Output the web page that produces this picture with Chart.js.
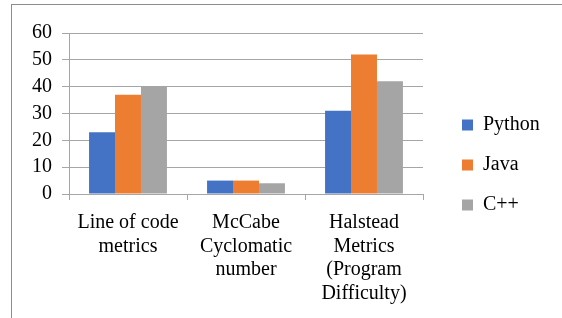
<!DOCTYPE html>
<html>
<head>
<meta charset="utf-8">
<script src="https://cdn.jsdelivr.net/npm/chart.js@4/dist/chart.umd.min.js"></script>
<style>
  html, body { margin: 0; padding: 0; background: #ffffff; }
  #wrap { position: relative; width: 562px; height: 318px; overflow: hidden; }
  #frame { position: absolute; left: 10.5px; top: 3.5px; width: 600px; height: 400px;
           border-left: 1.5px solid #8c8c8c; border-top: 1.5px solid #8c8c8c; }
  #c { position: absolute; left: 0; top: 0; }
</style>
</head>
<body>
<div id="wrap">
  <div id="frame"></div>
  <canvas id="c" width="562" height="318"></canvas>
</div>
<script>
const categories = [
  ["Line of code", "metrics"],
  ["McCabe", "Cyclomatic", "number"],
  ["Halstead", "Metrics", "(Program", "Difficulty)"]
];
const seriesNames = ["Python", "Java", "C++"];
const pythonValues = [23, 5, 31];
const javaValues = [37, 5, 52];
const cppValues = [40, 4, 42];
const seriesColors = ["#4472C4", "#ED7D31", "#A5A5A5"];
const yTicks = [0, 10, 20, 30, 40, 50, 60];

const FONT = "'Liberation Serif', 'Times New Roman', serif";
const gridColor = "#a6a6a6";

const legendTweak = {
  id: 'legendTweak',
  beforeUpdate(chart) {
    const lg = chart.legend;
    if (lg && !lg._wrapped) {
      const orig = lg.fit;
      lg.fit = function () { orig.call(this); this.width = 120; };
      lg._wrapped = true;
    }
  },
  afterLayout(chart) {
    const lg = chart.legend;
    if (lg) {
      const dx = 442 - lg.left;
      lg.left += dx; lg.right += dx;
      lg.top = 35; lg.bottom = 295; lg.height = 260;
    }
  }
};

new Chart(document.getElementById('c'), {
  type: 'bar',
  data: {
    labels: categories,
    datasets: [
      { label: seriesNames[0], data: pythonValues, backgroundColor: seriesColors[0] },
      { label: seriesNames[1], data: javaValues, backgroundColor: seriesColors[1] },
      { label: seriesNames[2], data: cppValues, backgroundColor: seriesColors[2] }
    ]
  },
  options: {
    responsive: false,
    animation: false,
    devicePixelRatio: 1,
    layout: { padding: { left: 32, right: 19, top: 33, bottom: 13 } },
    datasets: { bar: { categoryPercentage: 0.66, barPercentage: 1.0, borderWidth: 0 } },
    plugins: {
      tooltip: { enabled: false },
      legend: {
        position: 'right',
        align: 'center',
        labels: {
          font: { family: FONT, size: 20 },
          color: '#000',
          boxWidth: 11,
          boxHeight: 11,
          padding: 20
        }
      }
    },
    scales: {
      x: {
        offset: true,
        grid: { display: true, offset: true, drawOnChartArea: false, drawTicks: true, tickLength: 6, color: gridColor },
        border: { display: true, color: gridColor, width: 1 },
        ticks: {
          font: { family: FONT, size: 20, lineHeight: 1.175 },
          color: '#000',
          padding: 11,
          maxRotation: 0,
          autoSkip: false
        },
        afterFit(scale) { scale.height = 111; }
      },
      y: {
        min: 0,
        max: 60,
        afterBuildTicks(scale) { scale.ticks = yTicks.map(v => ({ value: v })); },
        grid: { color: gridColor, tickLength: 7, drawTicks: true },
        border: { display: true, color: gridColor, width: 1 },
        ticks: {
          font: { family: FONT, size: 20 },
          color: '#000',
          padding: 10,
          autoSkip: false
        },
        afterFit(scale) { scale.width = 37; }
      }
    }
  },
  plugins: [legendTweak]
});
</script>
</body>
</html>
